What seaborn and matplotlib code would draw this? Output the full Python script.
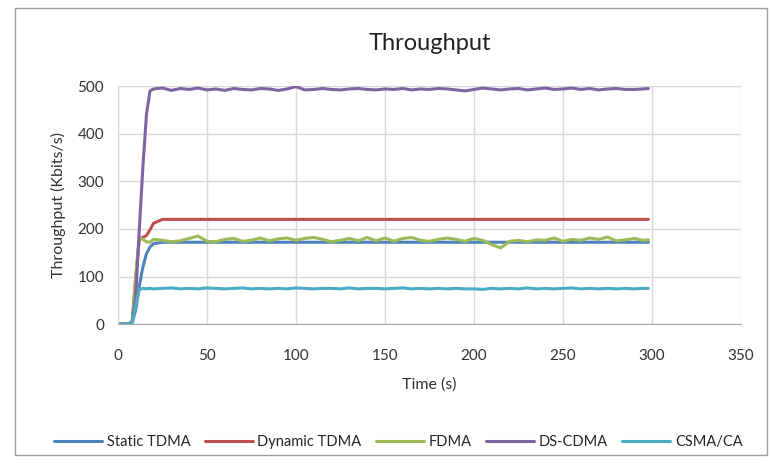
import pandas as pd
import matplotlib.pyplot as plt
import seaborn as sns
from matplotlib.patches import Rectangle

sns.set_style("white")
plt.rcParams['font.family'] = ['Lato', 'DejaVu Sans']

# time axis (s)
time = [0, 2, 4, 6, 8, 10, 12, 14, 16, 18] + list(range(20, 300, 5)) + [298]

static_tdma = [0, 0, 0, 0, 3, 30, 80, 120, 148, 162,
               169, 172, 172, 172, 172, 172, 172, 172, 172, 172,
               172, 172, 172, 172, 172, 172, 172, 172, 172, 172,
               172, 172, 172, 172, 172, 172, 172, 172, 172, 172,
               172, 172, 172, 172, 172, 172, 172, 172, 172, 172,
               172, 172, 172, 172, 172, 172, 172, 172, 172, 172,
               172, 172, 172, 172, 172, 172, 172]
dynamic_tdma = [0, 0, 0, 0, 5, 100, 180, 182, 186, 198,
                212, 220, 220, 220, 220, 220, 220, 220, 220, 220,
                220, 220, 220, 220, 220, 220, 220, 220, 220, 220,
                220, 220, 220, 220, 220, 220, 220, 220, 220, 220,
                220, 220, 220, 220, 220, 220, 220, 220, 220, 220,
                220, 220, 220, 220, 220, 220, 220, 220, 220, 220,
                220, 220, 220, 220, 220, 220, 220]
fdma = [0, 0, 0, 0, 5, 100, 182, 178, 173, 172,
        178, 176, 173, 175, 180, 185, 174, 173, 178, 180,
        174, 176, 181, 175, 179, 181, 176, 180, 182, 178,
        173, 176, 180, 175, 182, 175, 181, 174, 180, 182,
        176, 174, 178, 181, 178, 174, 180, 176, 167, 160,
        174, 176, 173, 177, 176, 181, 174, 178, 176, 181,
        178, 183, 175, 177, 180, 176, 177]
ds_cdma = [0, 0, 0, 0, 5, 60, 200, 330, 440, 490,
           494, 496, 491, 495, 493, 496, 492, 494, 491, 495,
           493, 492, 495, 494, 491, 494, 499, 492, 493, 495,
           493, 492, 494, 495, 493, 492, 494, 493, 495, 492,
           494, 493, 495, 494, 492, 490, 493, 496, 494, 492,
           494, 495, 492, 494, 496, 493, 494, 496, 493, 495,
           492, 494, 495, 493, 493, 494, 495]
csma_ca = [0, 0, 0, 0, 3, 40, 73, 75, 74, 75,
           74, 75, 76, 74, 75, 74, 76, 75, 74, 75,
           76, 74, 75, 74, 75, 74, 76, 75, 74, 75,
           75, 74, 76, 74, 75, 75, 74, 75, 76, 74,
           75, 74, 75, 74, 75, 74, 74, 73, 75, 74,
           75, 74, 76, 74, 75, 74, 75, 76, 74, 75,
           74, 75, 74, 75, 74, 75, 75]

series = ['Static TDMA', 'Dynamic TDMA', 'FDMA', 'DS-CDMA', 'CSMA/CA']
colors = ['#4F81BD', '#C0504D', '#9BBB59', '#8064A2', '#4BACC6']

frames = []
for name, vals in zip(series, [static_tdma, dynamic_tdma, fdma, ds_cdma, csma_ca]):
    frames.append(pd.DataFrame({'time': time, 'throughput': vals, 'protocol': name}))
df = pd.concat(frames, ignore_index=True)

fig = plt.figure(figsize=(7.71, 4.63), dpi=100)
ax = fig.add_axes([0.153, 0.300, 0.808, 0.514])

sns.lineplot(data=df, x='time', y='throughput', hue='protocol', hue_order=series,
             palette=colors, linewidth=2.2, ax=ax)

ax.set_xlim(0, 350)
ax.set_ylim(0, 500)
ax.set_xticks(range(0, 351, 50))
ax.set_yticks(range(0, 501, 100))
ax.grid(True, color='#D9D9D9', linewidth=1)
ax.set_axisbelow(True)
for s in ['top', 'right']:
    ax.spines[s].set_visible(False)
ax.spines['left'].set_color('#D9D9D9')
ax.spines['bottom'].set_color('#A6A6A6')
ax.tick_params(axis='both', labelsize=11, colors='#333333', length=0)
ax.tick_params(axis='y', pad=10)
ax.tick_params(axis='x', pad=18)
ax.set_xlabel('Time (s)', fontsize=11.5, color='#333333', labelpad=10)
ax.set_ylabel('Throughput (Kbits/s)', fontsize=11.5, color='#333333', labelpad=8)
ax.set_title('Throughput', fontsize=17, color='#222222', pad=26)

ax.legend(loc='upper center', bbox_to_anchor=(0.45, -0.41), ncol=5, frameon=False,
          fontsize=10.5, handlelength=3.3, handletextpad=0.3, columnspacing=1.0)

fig.patches.append(Rectangle((0.02, 0.017), 0.975, 0.965, transform=fig.transFigure,
                             fill=False, edgecolor='#A0A0A0', linewidth=1))

plt.savefig('out.png', dpi=100)
